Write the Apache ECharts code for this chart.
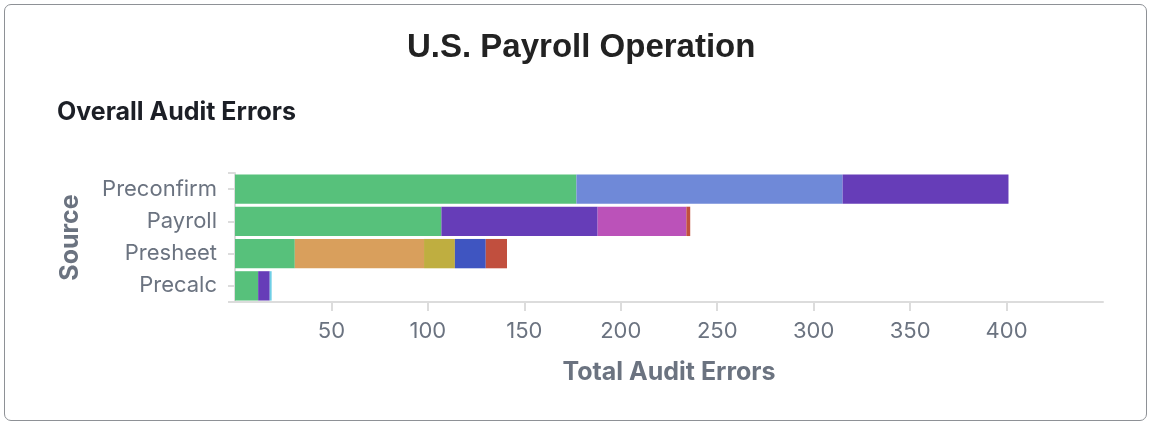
<!DOCTYPE html>
<html>
<head>
<meta charset="utf-8">
<script src="https://cdn.jsdelivr.net/npm/echarts@6/dist/echarts.min.js"></script>
<style>
  html, body { margin: 0; padding: 0; background: #ffffff; }
  #card {
    position: absolute; left: 4px; top: 4px; width: 1143px; height: 417px;
    border: 1.5px solid #8e9196; border-radius: 7px; box-sizing: border-box;
  }
  #chart { position: absolute; left: 0; top: 0; width: 1151px; height: 425px; }
</style>
</head>
<body>
<div id="card"></div>
<div id="chart"></div>
<script>
// Audit sources, top to bottom
const sources = ['Preconfirm', 'Payroll', 'Presheet', 'Precalc'];

// Error counts per audit type, one value per source (null = none)
const typeA = [177, 107, 31, 12];
const typeB = [138, null, null, null];
const typeC = [86, 81, null, 6];
const typeD = [null, null, null, 1];
const typeE = [null, 46, null, null];
const typeF = [null, null, 67, null];
const typeG = [null, null, 16, null];
const typeH = [null, null, 16, null];
const typeI = [null, 2, 11, null];

const seriesDefs = [
  { name: 'Type A', data: typeA, color: '#57c17b' },
  { name: 'Type B', data: typeB, color: '#6f89d8' },
  { name: 'Type C', data: typeC, color: '#663db8' },
  { name: 'Type D', data: typeD, color: '#6fcfe6' },
  { name: 'Type E', data: typeE, color: '#bb52b9' },
  { name: 'Type F', data: typeF, color: '#d99f5c' },
  { name: 'Type G', data: typeG, color: '#bfae40' },
  { name: 'Type H', data: typeH, color: '#3f55c1' },
  { name: 'Type I', data: typeI, color: '#c14f3e' }
];

const labelColor = '#6b7380';
const lineColor = '#dcdcdc';

const chart = echarts.init(document.getElementById('chart'), null, { renderer: 'canvas' });
chart.setOption({
  animation: false,
  title: [
    {
      text: 'U.S. Payroll Operation',
      left: 402, top: 26,
      textStyle: { fontFamily: 'Liberation Sans', fontWeight: 'bold', fontSize: 33, color: '#222222' }
    },
    {
      text: 'Overall Audit Errors',
      left: 52, top: 95,
      textStyle: { fontFamily: 'Inter', fontWeight: 'bold', fontSize: 25, color: '#1c1f26' }
    }
  ],
  grid: { left: 235, right: 48, top: 173, bottom: 123, containLabel: false },
  xAxis: {
    type: 'value',
    min: 0, max: 450, interval: 50,
    name: 'Total Audit Errors',
    nameLocation: 'middle', nameGap: 58,
    nameTextStyle: { fontFamily: 'Inter', fontWeight: 'bold', fontSize: 25, color: labelColor },
    axisLine: { show: true, lineStyle: { color: lineColor, width: 2 } },
    axisTick: { show: true, length: 9, lineStyle: { color: lineColor, width: 2 } },
    axisLabel: {
      showMinLabel: false, showMaxLabel: false,
      margin: 18, fontFamily: 'Inter', fontSize: 22, color: labelColor
    },
    splitLine: { show: false }
  },
  yAxis: [
    {
      type: 'category',
      data: sources,
      inverse: true,
      name: 'Source',
      nameLocation: 'middle', nameGap: 152, nameRotate: 90,
      nameTextStyle: { fontFamily: 'Inter', fontWeight: 'bold', fontSize: 25, color: labelColor },
      axisLine: { show: true, lineStyle: { color: lineColor, width: 2 } },
      axisTick: { show: true, alignWithLabel: true, length: 7, lineStyle: { color: lineColor, width: 2 } },
      axisLabel: { margin: 18, padding: [8, 0, 0, 0], fontFamily: 'Inter', fontSize: 22, color: labelColor }
    },
    {
      // end ticks at the top and bottom of the source axis
      type: 'value', position: 'left', min: 0, max: 1, interval: 1,
      axisLine: { show: false },
      axisTick: { show: true, length: 7, lineStyle: { color: lineColor, width: 2 } },
      axisLabel: { show: false },
      splitLine: { show: false }
    }
  ],
  series: seriesDefs.map(s => ({
    type: 'bar',
    name: s.name,
    stack: 'total',
    yAxisIndex: 0,
    barCategoryGap: '9%',
    data: s.data,
    itemStyle: { color: s.color }
  }))
});
</script>
</body>
</html>
